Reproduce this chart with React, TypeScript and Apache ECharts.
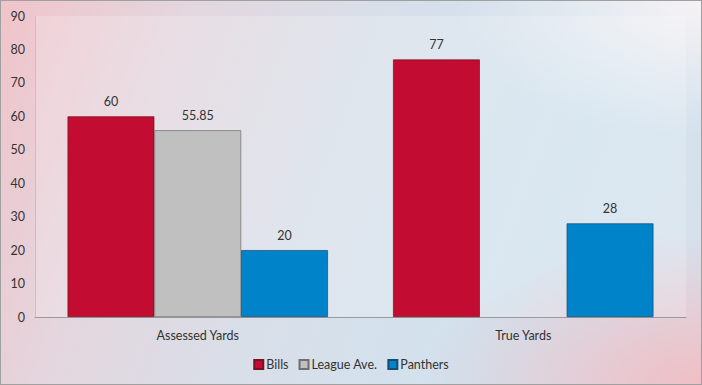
import React, { useEffect, useRef } from "react";
import * as echarts from "echarts";

const categories = ["Assessed Yards", "True Yards"];
const bills = [60, 77];
const leagueAve: (number | null)[] = [55.85, null];
const panthers = [20, 28];
const seriesNames = ["Bills", "League Ave.", "Panthers"];

export default function App() {
  const ref = useRef<HTMLDivElement>(null);
  useEffect(() => {
    document.body.style.margin = "0";
    const chart = echarts.init(ref.current!, undefined, { renderer: "svg" });
    const font = "Lato, 'Open Sans', sans-serif";
    const label = {
      show: true,
      position: "top" as const,
      color: "#333",
      fontSize: 12.5,
      fontFamily: font,
      distance: 8,
    };
    chart.setOption({
      animation: false,
      backgroundColor: "transparent",
      grid: {
        left: 34,
        right: 15,
        top: 15,
        bottom: 67,
        show: true,
        backgroundColor: "rgba(255,255,255,0.2)",
        borderWidth: 0,
      },
      legend: {
        bottom: 8,
        left: "center",
        itemWidth: 9,
        itemHeight: 9,
        itemGap: 10,
        textStyle: { color: "#333", fontSize: 12.5, fontFamily: font, padding: [0, 0, 0, -2] },
        data: seriesNames,
        icon: "rect",
      },
      xAxis: {
        type: "category",
        data: categories,
        axisLine: { show: true, lineStyle: { color: "#9a9a9a", width: 1 } },
        axisTick: { show: false },
        axisLabel: { color: "#333", fontSize: 12.5, fontFamily: font, margin: 12 },
      },
      yAxis: {
        type: "value",
        min: 0,
        max: 90,
        interval: 10,
        axisLine: { show: true, lineStyle: { color: "#c8c0c4" } },
        axisTick: { show: false },
        splitLine: { show: false },
        axisLabel: { color: "#333", fontSize: 12.5, fontFamily: font, margin: 10 },
      },
      series: [
        {
          name: seriesNames[0],
          type: "bar",
          data: bills,
          barGap: "0%",
          barCategoryGap: "20%",
          itemStyle: { color: "#C20C31", borderColor: "#7a1020", borderWidth: 0.7 },
          label,
        },
        {
          name: seriesNames[1],
          type: "bar",
          data: leagueAve,
          itemStyle: { color: "#C0C0C0", borderColor: "#6e6e6e", borderWidth: 0.7 },
          label,
        },
        {
          name: seriesNames[2],
          type: "bar",
          data: panthers,
          itemStyle: { color: "#0083C8", borderColor: "#1a4a70", borderWidth: 0.7 },
          label,
        },
      ],
    });
    return () => chart.dispose();
  }, []);
  return (
    <div
      style={{
        position: "absolute",
        left: 0,
        top: 0,
        width: 702,
        height: 385,
        boxSizing: "border-box",
        border: "1px solid #a0a0a0",
        background:
          "radial-gradient(ellipse at 100% 0%, rgba(246,242,244,1) 0%, rgba(246,242,244,0) 25%)," +
          "radial-gradient(ellipse at 100% 100%, rgba(240,190,196,1) 0%, rgba(240,190,196,0) 28%)," +
          "linear-gradient(110deg, #f0c4ca 0%, #e4d6de 22%, #d8dfe9 45%, #d0e2ee 75%, #d8e0ec 100%)",
      }}
    >
      <div ref={ref} style={{ width: 700, height: 383 }} />
    </div>
  );
}
